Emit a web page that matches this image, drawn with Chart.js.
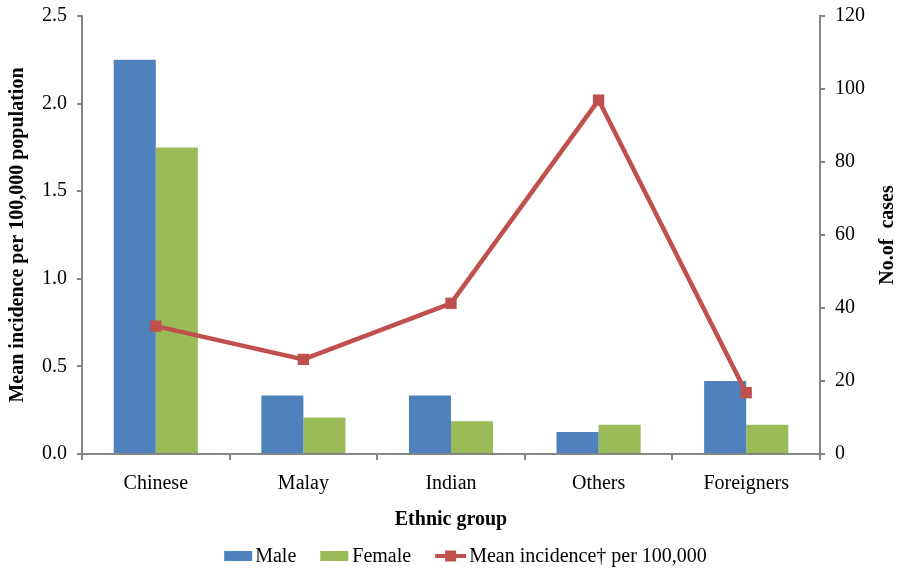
<!DOCTYPE html>
<html>
<head>
<meta charset="utf-8">
<script src="https://cdn.jsdelivr.net/npm/chart.js@4/dist/chart.umd.min.js"></script>
<style>
  html, body { margin: 0; padding: 0; background: #fff; }
  #wrap { width: 899px; height: 569px; position: relative; }
</style>
</head>
<body>
<div id="wrap"><canvas id="c"></canvas></div>
<script>
const categories = ['Chinese', 'Malay', 'Indian', 'Others', 'Foreigners'];
const maleCases = [108, 16, 16, 6, 20];
const femaleCases = [84, 10, 9, 8, 8];
const meanIncidence = [0.73, 0.54, 0.86, 2.02, 0.35];
const seriesNames = ['Male', 'Female', 'Mean incidence\u2020 per 100,000'];
const leftTitle = 'Mean incidence per 100,000 population';
const rightTitle = 'No.of  cases';
const xTitle = 'Ethnic group';

const FONT = '"Liberation Serif", "Times New Roman", serif';
const AXIS = '#868686';
const BLUE = '#4F81BD', GREEN = '#9BBB59', RED = '#C0504D';

const extras = {
  id: 'extras',
  afterDraw(chart) {
    const ctx = chart.ctx;
    const ca = chart.chartArea;
    // right axis title (reads bottom to top)
    ctx.save();
    ctx.fillStyle = '#000';
    ctx.font = 'bold 20px ' + FONT;
    ctx.textAlign = 'center';
    ctx.textBaseline = 'middle';
    ctx.translate(888, (ca.top + ca.bottom) / 2);
    ctx.rotate(-Math.PI / 2);
    ctx.fillText(rightTitle, 0, 0);
    ctx.restore();

    // legend
    ctx.save();
    ctx.font = '20px ' + FONT;
    ctx.textBaseline = 'middle';
    ctx.textAlign = 'left';
    const cy = 556;
    const items = [
      {name: seriesNames[0], kind: 'box', color: BLUE, w: 28, gap: 3},
      {name: seriesNames[1], kind: 'box', color: GREEN, w: 28, gap: 4},
      {name: seriesNames[2], kind: 'line', color: RED, w: 31, gap: 3}
    ];
    const between = 24;
    let total = 0;
    items.forEach((it, i) => {
      it.tw = ctx.measureText(it.name).width;
      total += it.w + it.gap + it.tw + (i < items.length - 1 ? between : 0);
    });
    let x = 465.5 - total / 2;
    items.forEach(it => {
      if (it.kind === 'box') {
        ctx.fillStyle = it.color;
        ctx.fillRect(x, cy - 5, it.w, 10);
      } else {
        ctx.strokeStyle = it.color;
        ctx.lineWidth = 4;
        ctx.beginPath();
        ctx.moveTo(x, cy);
        ctx.lineTo(x + it.w, cy);
        ctx.stroke();
        ctx.fillStyle = it.color;
        ctx.fillRect(x + it.w / 2 - 5.5, cy - 5.5, 11, 11);
      }
      x += it.w + it.gap;
      ctx.fillStyle = '#000';
      ctx.fillText(it.name, x, cy + 1);
      x += it.tw + between;
    });
    ctx.restore();
  }
};

new Chart(document.getElementById('c'), {
  type: 'bar',
  data: {
    labels: categories,
    datasets: [
      {
        type: 'line',
        label: seriesNames[2],
        data: meanIncidence,
        yAxisID: 'y',
        borderColor: RED,
        backgroundColor: RED,
        borderWidth: 4.5,
        pointStyle: 'rect',
        pointRadius: 8,
        pointBorderWidth: 0,
        pointBackgroundColor: RED,
        tension: 0,
        order: 0
      },
      {
        label: seriesNames[0],
        data: maleCases,
        yAxisID: 'y1',
        backgroundColor: BLUE,
        borderWidth: 0,
        categoryPercentage: 0.57,
        barPercentage: 1.0,
        order: 1
      },
      {
        label: seriesNames[1],
        data: femaleCases,
        yAxisID: 'y1',
        backgroundColor: GREEN,
        borderWidth: 0,
        categoryPercentage: 0.57,
        barPercentage: 1.0,
        order: 2
      }
    ]
  },
  options: {
    responsive: true,
    maintainAspectRatio: false,
    animation: false,
    layout: { padding: { top: 16, bottom: 34, left: 0, right: 0 } },
    plugins: {
      legend: { display: false },
      tooltip: { enabled: false }
    },
    scales: {
      x: {
        offset: true,
        grid: { offset: true, drawOnChartArea: false, drawTicks: true, tickLength: 6, color: AXIS, lineWidth: 2 },
        border: { display: true, color: AXIS, width: 2 },
        ticks: { color: '#000', font: { family: FONT, size: 20 }, padding: 12, maxRotation: 0 },
        title: { display: true, text: xTitle, color: '#000', font: { family: FONT, size: 20, weight: 'bold' }, padding: { top: 4, bottom: 3 } },
        afterFit(s) { s.height = 81; s.paddingLeft = 0; s.paddingRight = 0; }
      },
      y: {
        position: 'left',
        min: 0, max: 2.5,
        grid: { drawOnChartArea: false, drawTicks: true, tickLength: 5, color: AXIS, lineWidth: 2 },
        border: { display: true, color: AXIS, width: 2 },
        ticks: { stepSize: 0.5, color: '#000', font: { family: FONT, size: 20 }, padding: 10, callback: v => Number(v).toFixed(1) },
        title: { display: true, text: leftTitle, color: '#000', font: { family: FONT, size: 20, weight: 'bold' }, padding: { top: 6, bottom: 4 } },
        afterFit(s) { s.width = 82; s.paddingTop = 0; s.paddingBottom = 0; }
      },
      y1: {
        position: 'right',
        min: 0, max: 120,
        grid: { drawOnChartArea: false, drawTicks: true, tickLength: 5, color: AXIS, lineWidth: 2 },
        border: { display: true, color: AXIS, width: 2 },
        ticks: { stepSize: 20, color: '#000', font: { family: FONT, size: 20 }, padding: 10 },
        afterFit(s) { s.width = 79; s.paddingTop = 0; s.paddingBottom = 0; }
      }
    }
  },
  plugins: [extras]
});
</script>
</body>
</html>
